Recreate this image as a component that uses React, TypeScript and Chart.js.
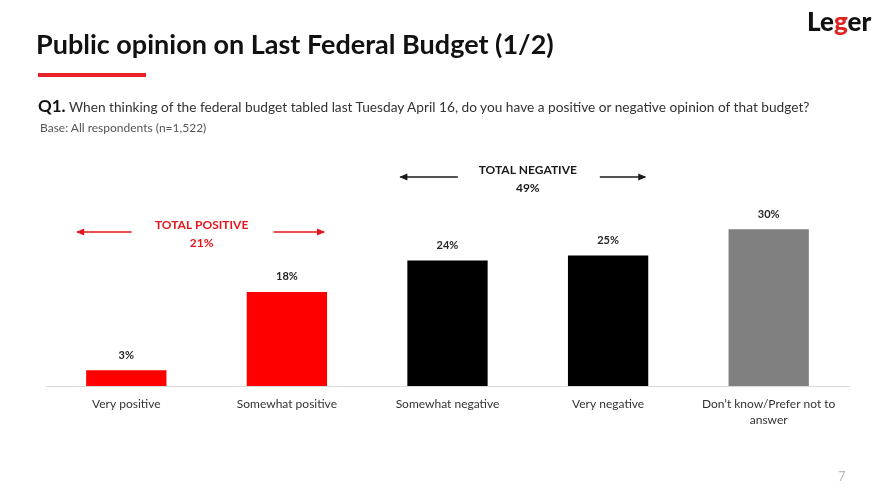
import React, { useEffect, useRef } from "react";
import { Chart, registerables } from "chart.js";

Chart.register(...registerables);

const categories: (string | string[])[] = [
  "Very positive",
  "Somewhat positive",
  "Somewhat negative",
  "Very negative",
  ["Don\u2019t know/Prefer not to", "answer"],
];
const values: number[] = [3, 18, 24, 25, 30];
const barColors: string[] = ["#ff0000", "#ff0000", "#000000", "#000000", "#808080"];
const groupLabels: string[] = ["TOTAL POSITIVE", "TOTAL NEGATIVE"];
const groupValues: string[] = ["21%", "49%"];
const groupRanges: [number, number][] = [[0, 1], [2, 3]];
const groupColors: string[] = ["#e8141c", "#1a1a1a"];

const FONT = "Lato, 'Open Sans', sans-serif";

function drawArrow(ctx: CanvasRenderingContext2D, x1: number, x2: number, y: number, color: string) {
  ctx.save();
  ctx.strokeStyle = color;
  ctx.fillStyle = color;
  ctx.lineWidth = 1.3;
  ctx.beginPath();
  ctx.moveTo(x1, y);
  ctx.lineTo(x2, y);
  ctx.stroke();
  const dir = x2 > x1 ? 1 : -1;
  ctx.beginPath();
  ctx.moveTo(x2 + dir * 1, y);
  ctx.lineTo(x2 - dir * 7, y - 3.5);
  ctx.lineTo(x2 - dir * 7, y + 3.5);
  ctx.closePath();
  ctx.fill();
  ctx.restore();
}

const annotPlugin = {
  id: "annot",
  afterDatasetsDraw(chart: any) {
    const ctx: CanvasRenderingContext2D = chart.ctx;
    const meta = chart.getDatasetMeta(0);
    ctx.save();
    ctx.font = `bold 11px ${FONT}`;
    ctx.fillStyle = "#262626";
    ctx.textAlign = "center";
    ctx.textBaseline = "middle";
    meta.data.forEach((bar: any, i: number) => {
      ctx.fillText(`${values[i]}%`, bar.x, bar.y - 15);
    });
    const xs = chart.scales.x;
    const tops = [225, 170];
    groupRanges.forEach((r, g) => {
      const b0 = meta.data[r[0]];
      const b1 = meta.data[r[1]];
      const left = b0.x - b0.width / 2 - (g === 0 ? 9 : 7);
      const right = b1.x + b1.width / 2 - 3;
      const cx = (xs.getPixelForValue(r[0]) + xs.getPixelForValue(r[1])) / 2 - (g === 0 ? 5 : 0);
      const y = tops[g];
      ctx.fillStyle = groupColors[g];
      ctx.font = `bold 12px ${FONT}`;
      ctx.fillText(groupLabels[g], cx, y);
      ctx.fillText(groupValues[g], cx, y + 18);
      drawArrow(ctx, cx - 70, left, y + 7, groupColors[g]);
      drawArrow(ctx, cx + 72, right, y + 7, groupColors[g]);
    });
    ctx.restore();
  },
};

export default function App() {
  const ref = useRef<HTMLCanvasElement | null>(null);
  useEffect(() => {
    if (!ref.current) return;
    const chart = new Chart(ref.current, {
      type: "bar",
      data: {
        labels: categories,
        datasets: [
          {
            data: values,
            backgroundColor: barColors,
            barPercentage: 0.5,
            categoryPercentage: 1.0,
          },
        ],
      },
      options: {
        animation: false,
        responsive: false,
        devicePixelRatio: 1,
        layout: { padding: { left: 46, right: 36, top: 177, bottom: 0 } },
        plugins: { legend: { display: false }, tooltip: { enabled: false } },
        scales: {
          y: { display: false, min: 0, max: 40 },
          x: {
            grid: { display: false, drawTicks: false },
            border: { display: true, color: "#d9d9d9", width: 1 },
            ticks: {
              color: "#333333",
              font: { family: FONT, size: 12, lineHeight: 1.35 },
              padding: 10,
              maxRotation: 0,
              autoSkip: false,
            },
            afterFit: (s: any) => {
              s.height = 109;
            },
          },
        },
      },
      plugins: [annotPlugin],
    });
    return () => chart.destroy();
  }, []);

  return (
    <div style={{ position: "absolute", left: 0, top: 0, width: 885, height: 495, background: "#fff", overflow: "hidden", fontFamily: FONT }}>
      <canvas ref={ref} width={885} height={495} style={{ position: "absolute", left: 0, top: 0 }} />
      <div style={{ position: "absolute", left: 36, top: 27, fontSize: 27, fontWeight: 700, color: "#111", whiteSpace: "nowrap" }}>
        Public opinion on Last Federal Budget (1/2)
      </div>
      <div style={{ position: "absolute", left: 38, top: 73, width: 108, height: 4, background: "#e8202a" }} />
      <div style={{ position: "absolute", left: 38, top: 95, fontSize: 13.7, color: "#333", whiteSpace: "nowrap" }}>
        <span style={{ fontWeight: 700, fontSize: 17, color: "#111" }}>Q1.</span> When thinking of the federal budget tabled last Tuesday April 16, do you have a positive or negative opinion of that budget?
      </div>
      <div style={{ position: "absolute", left: 40, top: 120, fontSize: 12, color: "#555", whiteSpace: "nowrap" }}>
        Base: All respondents (n=1,522)
      </div>
      <div style={{ position: "absolute", left: 807, top: 5, fontSize: 26, fontWeight: 900, color: "#111", whiteSpace: "nowrap" }}>
        Le<span style={{ color: "#e02424" }}>g</span>er
      </div>
      <div style={{ position: "absolute", left: 838, top: 468, fontSize: 13, color: "#bbb" }}>7</div>
    </div>
  );
}
